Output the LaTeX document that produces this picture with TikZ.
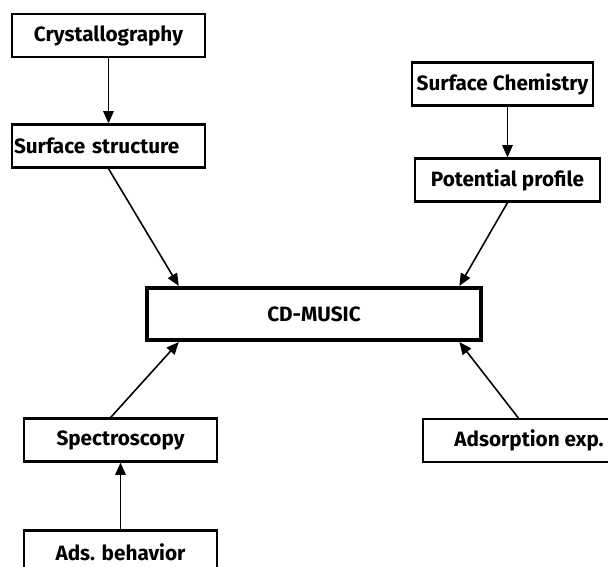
\documentclass[tikz,border=0pt]{standalone}
\usepackage{fontspec}
\setmainfont{Fira Sans}
\usetikzlibrary{arrows.meta,calc}

\begin{document}
\begin{tikzpicture}[x=0.02cm,y=-0.02cm]
		\useasboundingbox (0,0) rectangle (608,567);
		\clip (0,0) rectangle (608,567);

		\begin{scope}[every node/.style={rectangle,draw,line width=1.3pt,minimum height=0.86cm,inner sep=2pt,font=\bfseries\fontsize{11.8}{13}\selectfont}]
			\node[minimum width=3.86cm] (cryst) at (108.5,35.5) {Crystallography};
			\node[text width=3.78cm,inner xsep=1pt,align=left] (surf) at (108.5,146) {Surface structure};
			\node[minimum width=3.62cm,inner xsep=1pt] (chem) at (502.5,84) {Surface Chemistry};
			\node[minimum width=3.7cm] (pot) at (507.5,180) {Potential profile};
			\node[minimum width=6.68cm,minimum height=1.04cm,line width=2.4pt] (cdm) at (314,314) {CD-MUSIC};
			\node[minimum width=3.86cm] (spec) at (120.5,440) {Spectroscopy};
			\node[minimum width=3.86cm] (ads) at (120.5,552) {Ads. behavior};
			\node[minimum width=4.24cm] (adsexp) at (529,440.5) {Adsorption exp.};
		\end{scope}

		\begin{scope}[>={Triangle[length=7pt,width=6pt]},line width=0.9pt]
			\path[->] (cryst) edge node {} (surf);
			\path[->] (pot.north |- chem.south) edge node {} (pot.north);
			\path[->] (surf.south) edge node {} ($(cdm.north west)!0.1!(cdm.north east)$);
			\path[->] (pot.south) edge node {} ($(cdm.north west)!0.93!(cdm.north east)$);
			\path[->] ($(spec.north west)!0.45!(spec.north east)$) edge node {} ($(cdm.south west)!0.1!(cdm.south east)$);
			\path[->] ($(adsexp.north west)!0.45!(adsexp.north east)$) edge node {} ($(cdm.south west)!0.93!(cdm.south east)$);
			\path[->] (ads) edge node {} (spec);
		\end{scope}
	\end{tikzpicture}
\end{document}
